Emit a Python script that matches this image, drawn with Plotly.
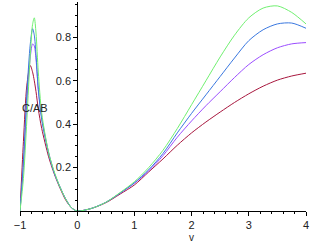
import plotly.graph_objects as go

v = [-1, -0.94, -0.88, -0.82, -0.78, -0.75, -0.72, -0.68, -0.62, -0.5, -0.4, -0.3, -0.2, -0.1, 0,
     0.25, 0.5, 0.75, 1.0, 1.25, 1.5, 1.75, 2.0, 2.25, 2.5, 2.75, 3.0, 3.25, 3.5, 3.75, 4.0]

green = [0, 0.15, 0.42, 0.72, 0.86, 0.89, 0.82, 0.64, 0.45, 0.27, 0.18, 0.11, 0.055, 0.015, 0,
         0.012, 0.04, 0.085, 0.135, 0.2, 0.28, 0.38, 0.49, 0.6, 0.71, 0.81, 0.89, 0.935, 0.945, 0.915, 0.862]
blue = [0, 0.23, 0.54, 0.77, 0.84, 0.81, 0.72, 0.56, 0.42, 0.265, 0.175, 0.11, 0.055, 0.015, 0,
        0.012, 0.04, 0.083, 0.13, 0.19, 0.265, 0.36, 0.45, 0.535, 0.62, 0.705, 0.785, 0.835, 0.862, 0.866, 0.842]
purple = [0, 0.2, 0.5, 0.71, 0.77, 0.76, 0.70, 0.56, 0.43, 0.27, 0.175, 0.11, 0.055, 0.015, 0,
          0.012, 0.04, 0.082, 0.128, 0.185, 0.255, 0.34, 0.415, 0.485, 0.55, 0.615, 0.675, 0.72, 0.752, 0.77, 0.776]
red = [0, 0.32, 0.58, 0.67, 0.64, 0.6, 0.55, 0.47, 0.38, 0.25, 0.17, 0.105, 0.05, 0.015, 0,
       0.012, 0.038, 0.078, 0.12, 0.18, 0.24, 0.303, 0.36, 0.41, 0.456, 0.5, 0.54, 0.575, 0.603, 0.622, 0.635]

series = [
    (red, '#a8173e'),
    (purple, '#9b4dff'),
    (blue, '#3a78e0'),
    (green, '#70f070'),
]

fig = go.Figure()
for ys, col in series:
    fig.add_trace(go.Scatter(x=v, y=ys, mode='lines',
                             line=dict(color=col, width=1, shape='spline', smoothing=0.8),
                             showlegend=False, hoverinfo='skip'))

tick_font = dict(family='Liberation Sans, Arial, sans-serif', size=11, color='#222')

fig.update_layout(
    width=326, height=242,
    margin=dict(l=20, r=20, t=2, b=31),
    plot_bgcolor='white', paper_bgcolor='white',
    xaxis=dict(range=[-1, 4], showgrid=False, zeroline=False,
               showline=True, linecolor='black', linewidth=1,
               tickvals=[-1, 0, 1, 2, 3, 4], ticks='outside', ticklen=4, tickcolor='black',
               minor=dict(dtick=0.2, tick0=0, ticks='outside', ticklen=2, tickcolor='black'),
               tickfont=tick_font),
    yaxis=dict(range=[0, 0.963], showgrid=False, zeroline=False,
               anchor='free', position=0.2,
               showline=True, linecolor='black', linewidth=1,
               tickvals=[0.2, 0.4, 0.6, 0.8], ticks='outside', ticklen=4, tickcolor='black',
               minor=dict(dtick=0.05, tick0=0, ticks='outside', ticklen=2, tickcolor='black'),
               tickfont=tick_font),
    annotations=[
        dict(text='C/AB', x=-0.73, y=0.475, xref='x', yref='y', showarrow=False,
             font=tick_font),
        dict(text='v', x=2, y=0, xref='x', yref='paper', yanchor='top', yshift=-19,
             showarrow=False, font=dict(family='Liberation Sans, Arial, sans-serif',
                                        size=10, color='#222')),
    ],
)

fig.write_html("out.html", config={'displayModeBar': False},
               post_script="document.body.style.margin='0';")
